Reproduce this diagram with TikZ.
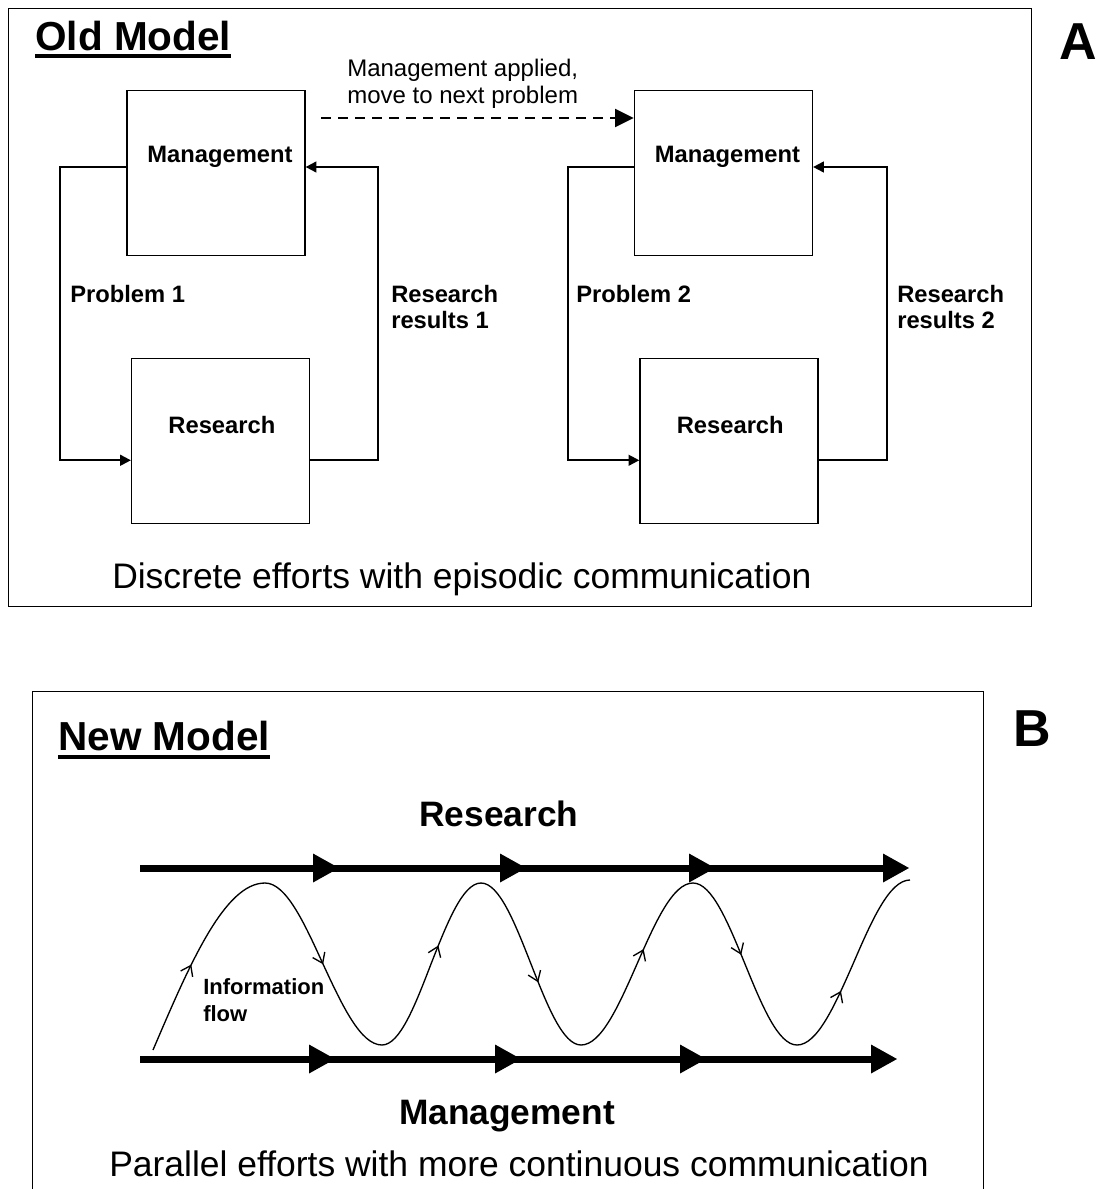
\documentclass[tikz,border=0pt]{standalone}
\usepackage{fontspec}
\setmainfont{Liberation Sans}
\usetikzlibrary{arrows.meta,positioning,decorations.markings}
\tikzset{bigTip/.tip={Triangle[length=19.5pt,width=21.75pt,line width=0pt]}}

\begin{document}
\begin{tikzpicture}[x=0.75pt, y=-0.75pt,
			panel/.style={draw, rectangle, line width=1pt, inner sep=0pt, anchor=north west},
			block/.style={draw, rectangle, line width=1.1pt, minimum width=133.5pt, minimum height=123.75pt, inner sep=0pt},
			blockText/.style={font=\fontsize{17.8pt}{21pt}\selectfont\bfseries, inner sep=0pt, anchor=base},
			loopText/.style={font=\fontsize{17.8pt}{19.5pt}\selectfont\bfseries, inner sep=0pt, align=left},
			noteText/.style={font=\fontsize{18pt}{20.25pt}\selectfont, inner sep=0pt, align=left, anchor=north west},
			title/.style={font=\fontsize{30.4pt}{36pt}\selectfont\bfseries, inner sep=0pt, anchor=base west},
			letter/.style={font=\fontsize{39pt}{46pt}\selectfont\bfseries, inner sep=0pt, anchor=base},
			caption/.style={font=\fontsize{26.6pt}{32pt}\selectfont, inner sep=0pt, anchor=base west},
			trackText/.style={font=\fontsize{26.5pt}{32pt}\selectfont\bfseries, inner sep=0pt, anchor=base},
			infoText/.style={font=\fontsize{16.5pt}{20.25pt}\selectfont\bfseries, inner sep=0pt, align=left, anchor=north west},
			uline/.style={line width=3pt},
			arrowLoop/.style={line width=1.5pt, -{Triangle[length=8pt,width=8.5pt,line width=0pt]}},
			arrowDash/.style={line width=2.2pt, dash pattern=on 7.5pt off 5.25pt, -{Triangle[length=14pt,width=14pt,line width=0pt]}},
			track/.style n args={3}{line width=5.25pt, -bigTip,
				decoration={markings,
					mark=at position #1 with {\arrow{bigTip}},
					mark=at position #2 with {\arrow{bigTip}},
					mark=at position #3 with {\arrow{bigTip}}},
				postaction={decorate}},
			wave/.style={line width=1pt},
			flow/.style={decoration={markings, mark=at position #1 with {\arrow{Straight Barb[length=7pt,width=10pt]}}}, postaction={decorate}},
			]
			\useasboundingbox (0,0) rectangle (1101,1189);
			
			% A
			\node[panel, minimum width=767.25pt, minimum height=448.5pt] (panelA) at (8,8) {};
			\node[title] (oldTitle) at (35,50) {Old Model};
			\draw[uline] ([yshift=-4.5pt]oldTitle.base west) -- ([yshift=-4.5pt]oldTitle.base east);
			\node[letter] (letterA) at (1078,59) {A};
			
			\node[block] (mgmt1) at (216,173) {};
			\node[block, below=76pt of mgmt1, xshift=3.4pt] (res1) {};
			\node[block, right=246pt of mgmt1] (mgmt2) {};
			\node[block, below=76pt of mgmt2, xshift=4.1pt] (res2) {};
			
			\foreach \i in {1,2}
			{\node[blockText, xshift=3pt] (mgmtText\i) at ([yshift=-54.75pt]mgmt\i.north) {Management};
			 \node[blockText, xshift=1pt] (resText\i) at ([yshift=-57pt]res\i.north) {Research};}
			
			\node[loopText, anchor=base west] (problem1) at (70,302) {Problem 1};
			\node[loopText, anchor=north west] (results1) at (391,285) {Research\\results 1};
			\node[loopText, anchor=base west] (problem2) at (576,302) {Problem 2};
			\node[loopText, anchor=north west] (results2) at (897,285) {Research\\results 2};
			
			\node[noteText] (nextNote) at (347,59) {Management applied,\\move to next problem};
			\node[caption] (captionA) at (112,588) {Discrete efforts with episodic communication};
			
			% Arrow
			\foreach \i in {1,2}
			{\draw[arrowLoop] ([yshift=4.5pt]mgmt\i.west) -- ++(-66,0) |- ([yshift=-14.6pt]res\i.west);
			 \draw[arrowLoop] ([yshift=-14.6pt]res\i.east) -- ++(68,0) |- ([yshift=4.5pt]mgmt\i.east);}
			
			\coordinate (dashStart) at (321,118);
			\draw[arrowDash] (dashStart) -- (dashStart -| mgmt2.west);
			
			% B
			\node[panel, minimum width=713.25pt, minimum height=381.75pt] (panelB) at (32,691) {};
			\node[title] (newTitle) at (58,750) {New Model};
			\draw[uline] ([yshift=-5pt]newTitle.base west) -- ([yshift=-5pt]newTitle.base east);
			\node[letter] (letterB) at (1032,746) {B};
			
			\node[trackText] (resTrack) at (499,826) {Research};
			\node[trackText] (mgmtTrack) at (507,1124) {Management};
			\node[caption] (captionB) at (109,1176) {Parallel efforts with more continuous communication};
			\node[infoText] (infoFlow) at (203,978) {Information\\flow};
			
			\coordinate (resStart) at (140,868);
			\coordinate (resEnd) at (909,868);
			\coordinate (mgmtStart) at (140,1059);
			\coordinate (mgmtEnd) at (897,1059);
			\draw[track={149.25pt}{289.5pt}{431.25pt}] (resStart) -- (resEnd);
			\draw[track={146.25pt}{285.75pt}{424.5pt}] (mgmtStart) -- (mgmtEnd);
			
			% wave
			\coordinate (wS) at (153,1050);
			\coordinate (wP1) at (265,883);
			\coordinate (wC1) at (323,964);
			\coordinate (wT1) at (382,1045);
			\coordinate (wC2) at (431,964);
			\coordinate (wP2) at (481,883);
			\coordinate (wC3) at (531,964);
			\coordinate (wT2) at (581,1045);
			\coordinate (wC4) at (637,964);
			\coordinate (wP3) at (693,883);
			\coordinate (wC5) at (745,964);
			\coordinate (wT3) at (797,1045);
			\coordinate (wC6) at (853,964);
			\coordinate (wE) at (910,880);
			
			\draw[wave, flow=0.45] (wS) sin (wP1);
			\draw[wave, flow=0.5] (wP1) cos (wC1) sin (wT1);
			\draw[wave, flow=0.6] (wT1) cos (wC2) sin (wP2);
			\draw[wave, flow=0.6] (wP2) cos (wC3) sin (wT2);
			\draw[wave, flow=0.58] (wT2) cos (wC4) sin (wP3);
			\draw[wave, flow=0.45] (wP3) cos (wC5) sin (wT3);
			\draw[wave, flow=0.35] (wT3) cos (wC6) sin (wE);
			
		\end{tikzpicture}
\end{document}
